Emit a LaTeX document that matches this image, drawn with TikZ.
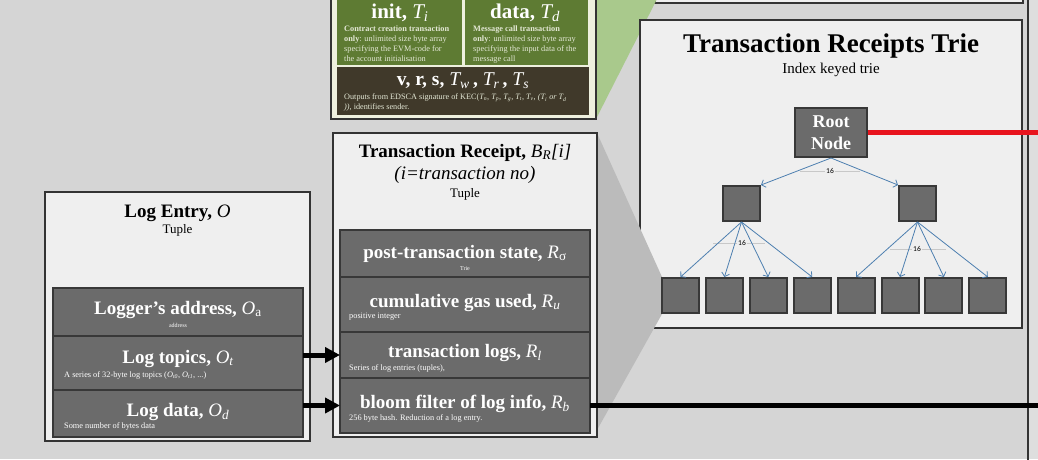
\documentclass[tikz,border=0pt]{standalone}
\usepackage{fontspec}
\setmainfont{Liberation Serif}
\newfontfamily\labelfont{Carlito}
\usetikzlibrary{arrows.meta,calc}
\definecolor{bggray}{HTML}{D5D5D5}
\definecolor{edgegray}{HTML}{DEDEDE}
\definecolor{panelfill}{HTML}{EFEFEF}
\definecolor{boxline}{HTML}{333333}
\definecolor{cellfill}{HTML}{6B6B6B}
\definecolor{cellline}{HTML}{383838}
\definecolor{shadegray}{HTML}{BBBBBB}
\definecolor{leafgreen}{HTML}{A9C98C}
\definecolor{cellgreen}{HTML}{5E7B33}
\definecolor{sigbrown}{HTML}{40392A}
\definecolor{txcream}{HTML}{EEF0DE}
\definecolor{notetext}{HTML}{E4E8D6}
\definecolor{branchblue}{HTML}{4D7FB0}
\definecolor{markgray}{HTML}{C8C8C8}
\definecolor{rootred}{HTML}{E8141E}
\newcommand{\fieldsym}[2]{{\mdseries\itshape #1\textsubscript{#2}}}
\tikzset{
	panel/.style={draw=boxline, fill=panelfill, line width=2pt},
	cell/.style={draw=cellline, fill=cellfill, line width=2.5pt, anchor=north west,
			inner sep=0pt, outer sep=0pt, minimum width=250pt},
	celltitle/.style={text=white, anchor=base, font=\fontsize{19}{22}\selectfont\bfseries},
	cellnote/.style={text=white, anchor=base west, inner sep=0pt, font=\fontsize{8.3}{9}\selectfont},
	heading/.style={anchor=base, inner sep=0pt, font=\fontsize{19}{22}\selectfont\bfseries},
	subhead/.style={anchor=base, inner sep=0pt, font=\fontsize{13}{15}\selectfont},
	txnote/.style={anchor=north west, inner sep=0pt, align=left, text=notetext,
			font=\fontsize{8.3}{9.7}\selectfont},
	trienode/.style={draw=cellline, fill=cellfill, line width=2pt, minimum width=37pt,
			minimum height=35pt, inner sep=0pt},
	branch/.style={-{Straight Barb[length=3.5pt,width=8pt]}, draw=branchblue, line width=0.8pt},
	fanmark/.style={draw=markgray, line width=0.5pt},
	fanlabel/.style={fill=panelfill, inner sep=1pt, font=\labelfont\fontsize{7.5}{8}\selectfont},
	fatarrow/.style={-{Triangle[length=15pt,width=15pt]}, line width=5pt},
	bus/.style={line width=4.5pt},
	rootlink/.style={draw=rootred, line width=5pt}
}

\begin{document}
\begin{tikzpicture}[x=1pt, y=-1pt]
	\useasboundingbox (0,0) rectangle (1038,459);
	\clip (0,0) rectangle (1038,459);
	\fill [bggray] (0,0) rectangle (1038,459);
	\fill [edgegray] (1029,0) rectangle (1038,459);
	\draw [boxline, line width=2pt] (1028,-5) -- (1028,465);

	% block above the trie, cut by the page
	\draw [panel] (655,-10) rectangle (1023,3);
	\fill [leafgreen] (596,119) -- (657,-1) -- (596,-1) -- cycle;

	% transaction (cut by the page)
	\draw [boxline, fill=txcream, line width=2pt] (331,-10) rectangle (596,119);
	\node [fill=cellgreen, anchor=north west, minimum width=125pt, minimum height=75pt, inner sep=0pt] (initcell) at (337,-10) {};
	\node [fill=cellgreen, anchor=north west, minimum width=123pt, minimum height=75pt, inner sep=0pt] (datacell) at (465,-10) {};
	\node [fill=sigbrown, anchor=north west, minimum width=252pt, minimum height=48pt, inner sep=0pt] (sigcell) at (337,67) {};
	\node [heading, text=white, font=\fontsize{21}{23}\selectfont\bfseries] (inittext) at (400,18) {init, \fieldsym{T}{i}};
	\node [heading, text=white, font=\fontsize{21}{23}\selectfont\bfseries] (datatext) at (525,18) {data, \fieldsym{T}{d}};
	\node [txnote] (initnote) at (344,26) {\textbf{Contract creation transaction}\\\textbf{only}: unlimited size byte array\\specifying the EVM-code for\\the account initialisation};
	\node [txnote] (datanote) at (473,26) {\textbf{Message call transaction}\\\textbf{only}: unlimited size byte array\\specifying the input data of the\\message call};
	\node [heading, text=white, font=\fontsize{19.5}{22}\selectfont\bfseries] (sigtext) at (463,85) {v, r, s, \fieldsym{T}{w}\,, \fieldsym{T}{r}\,, \fieldsym{T}{s}};
	\node [txnote, font=\fontsize{8.2}{9.3}\selectfont] (signote) at (344,94) {Outputs from EDSCA signature of KEC(\fieldsym{T}{n}, \fieldsym{T}{p}, \fieldsym{T}{g}, \fieldsym{T}{t}, \fieldsym{T}{v}, \textit{(T\textsubscript{i} or T\textsubscript{d}}\\\textit{))}, identifies sender.};

	% transaction receipts trie
	\draw [panel] (640,20) rectangle (1022,328);
	\fill [shadegray] (597,133) -- (662,277) -- (662,314) -- (597,430) -- cycle;
	\node [heading, font=\fontsize{27}{30}\selectfont\bfseries] (triehead) at (831,52) {Transaction Receipts Trie};
	\node [subhead, font=\fontsize{15}{17}\selectfont] (triesub) at (831,73) {Index keyed trie};

	\node [trienode, minimum width=72pt, minimum height=49pt, text=white, align=center,
		font=\fontsize{18}{22}\selectfont\bfseries] (root) at (831,132.5) {Root\\Node};
	\node [trienode] (midL) at (741.5,203.5) {};
	\node [trienode] (midR) at (917.5,203.5) {};
	\foreach \i in {1,...,8}
		\node [trienode] (leaf\i) at ({680.5+43.9*(\i-1)},295.5) {};

	\draw [fanmark] (800,171) -- (860,171);
	\draw [fanmark] (713,243) -- (765,243);
	\draw [fanmark] (890,249) -- (946,249);
	\draw [branch] (root.south) -- (midL.north east);
	\draw [branch] (root.south) -- (midR.north west);
	\foreach \i in {1,...,4}
		\draw [branch] (midL.south) -- (leaf\i.north);
	\foreach \i in {5,...,8}
		\draw [branch] (midR.south) -- (leaf\i.north);
	\node [fanlabel] (fanroot) at (830,171) {16};
	\node [fanlabel] (fanL) at (742,243) {16};
	\node [fanlabel] (fanR) at (917,249) {16};

	\coordinate (rootout) at (1040,132.5);
	\draw [rootlink] (root.east) -- (root.east -| rootout);

	% transaction receipt
	\draw [panel] (333,133) rectangle (597,437);
	\node [heading] (rcpthead) at (465,157) {Transaction Receipt, {\mdseries\itshape B\textsubscript{R}[i]}};
	\node [anchor=base, inner sep=0pt, font=\fontsize{19}{22}\selectfont\itshape] (rcptidx) at (465,179) {(i=transaction no)};
	\node [subhead] (rcpttuple) at (465,197) {Tuple};

	\node [cell, minimum height=47pt] (post) at (340,230) {};
	\node [cell, minimum height=55pt] (gas) at (340,277) {};
	\node [cell, minimum height=46pt] (txlogs) at (340,332) {};
	\node [cell, minimum height=55pt] (bloom) at (340,378) {};

	\node [celltitle] (posttext) at (465,258) {post-transaction state, {\mdseries\itshape R}\textsubscript{\mdseries σ}};
	\node [cellnote, anchor=base, font=\fontsize{6}{7}\selectfont] (postnote) at (465,270) {Trie};
	\node [celltitle] (gastext) at (465,307) {cumulative gas used, \fieldsym{R}{u}};
	\node [cellnote] (gasnote) at (349,318) {positive integer};
	\node [celltitle] (txlogstext) at (465,357) {transaction logs, \fieldsym{R}{l}};
	\node [cellnote] (txlogsnote) at (349,370) {Series of log entries (tuples),};
	\node [celltitle] (bloomtext) at (465,408) {bloom filter of log info, \fieldsym{R}{b}};
	\node [cellnote] (bloomnote) at (349,420) {256 byte hash. Reduction of a log entry.};

	% log entry
	\draw [panel] (45,192) rectangle (310,441);
	\node [heading] (loghead) at (177.5,217) {Log Entry, {\mdseries\itshape O}};
	\node [subhead] (logtuple) at (177.5,233) {Tuple};

	\node [cell, minimum height=48pt] (logaddr) at (53,288) {};
	\node [cell, minimum height=54pt] (logtopics) at (53,336) {};
	\node [cell, minimum height=47pt] (logdata) at (53,390) {};

	\node [celltitle] (logaddrtext) at (178,314) {Logger’s address, {\mdseries\itshape O}\textsubscript{\mdseries a}};
	\node [cellnote, anchor=base, font=\fontsize{6}{7}\selectfont] (logaddrnote) at (178,327) {address};
	\node [celltitle] (logtopicstext) at (178,363) {Log topics, \fieldsym{O}{t}};
	\node [cellnote] (logtopicsnote) at (64,377) {A series of 32-byte log topics (\fieldsym{O}{t0}, \fieldsym{O}{t1}, ...)};
	\node [celltitle] (logdatatext) at (178,416) {Log data, \fieldsym{O}{d}};
	\node [cellnote] (logdatanote) at (64,428) {Some number of bytes data};

	% links
	\draw [fatarrow] (logtopics.east |- txlogs.west) -- (txlogs.west);
	\draw [fatarrow] (logdata.east |- bloom.west) -- (bloom.west);
	\coordinate (bloomout) at (1040,405.5);
	\draw [bus] (bloom.east) -- (bloom.east -| bloomout);
\end{tikzpicture}
\end{document}
